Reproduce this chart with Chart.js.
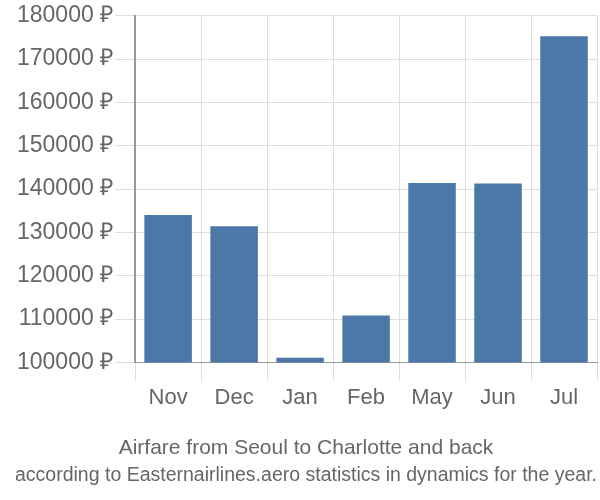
<!DOCTYPE html>
<html>
<head>
<meta charset="utf-8">
<script src="https://cdn.jsdelivr.net/npm/chart.js@4"></script>
<style>
  body{margin:0;background:#fff;}
  #wrap{width:600px;height:500px;}
</style>
</head>
<body>
<div id="wrap"><canvas id="fareChart" width="600" height="500"></canvas></div>
<script>
const months = ["Nov","Dec","Jan","Feb","May","Jun","Jul"];
const fares = [134000, 131400, 101100, 110800, 141400, 141300, 175300];
const yTicks = [100000,110000,120000,130000,140000,150000,160000,170000,180000];

const ctx = document.getElementById("fareChart");

// bottom boxes: the one with the lower weight sits closer to the plot,
// so the big caption goes in "subtitle" and the small line in "title"
new Chart(ctx,{
    type:"bar",
    data:{
        labels:months,
        datasets:[{
            data:fares,
            backgroundColor:"#4c78a8",
            borderWidth:0
        }]
    },
    options:{
        responsive:false,
        animation:false,
        layout:{padding:{top:4,right:3,left:15,bottom:0}},
        plugins:{
            legend:{display:false},
            tooltip:{enabled:false},
            subtitle:{
                display:true,
                position:"bottom",
                text:"Airfare from Seoul to Charlotte and back",
                color:"#666",
                font:{family:"Liberation Sans",size:21,weight:"normal"},
                padding:{top:21,bottom:2}
            },
            title:{
                display:true,
                position:"bottom",
                text:"according to Easternairlines.aero statistics in dynamics for the year.",
                color:"#666",
                font:{family:"Liberation Sans",size:20,weight:"normal"},
                padding:{top:0,bottom:13}
            }
        },
        scales:{
            x:{
                grid:{color:"#ddd",offset:true,tickLength:18},
                border:{color:"#999"},
                ticks:{color:"#666",font:{family:"Liberation Sans",size:22},padding:4}
            },
            y:{
                min:100000,
                max:180000,
                afterBuildTicks:(axis)=>{axis.ticks = yTicks.map(v=>({value:v}));},
                grid:{color:"#ddd",tickLength:20},
                border:{color:"#999",width:2},
                ticks:{
                    color:"#666",
                    font:{family:"Liberation Sans",size:23},
                    padding:2,
                    callback:(v)=>v+" ₽"
                }
            }
        }
    }
});
</script>
</body>
</html>
